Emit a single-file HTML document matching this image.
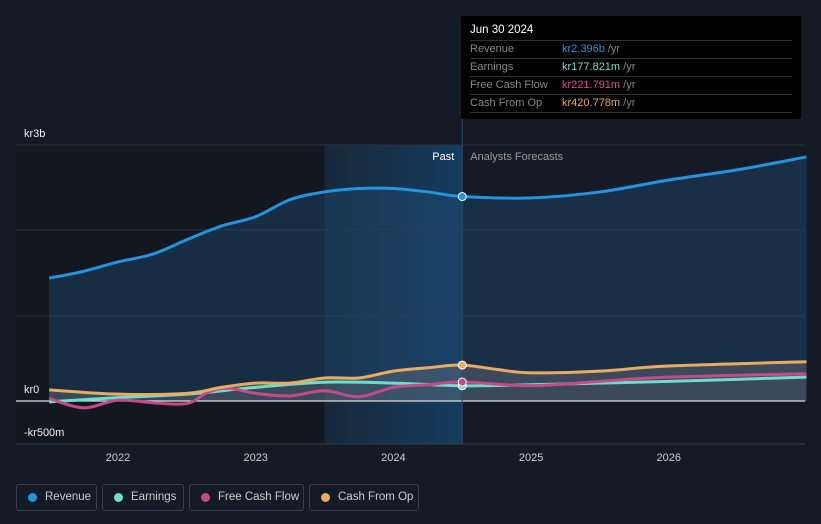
<!DOCTYPE html>
<html><head><meta charset="utf-8"><style>
body{margin:0;background:#151b26;width:821px;height:524px;overflow:hidden;font-family:"Liberation Sans",sans-serif;position:relative}
svg{position:absolute;left:0;top:0}
#tip{position:absolute;left:461px;top:16px;width:340px;height:103px;background:#000;border-radius:2px;font-size:11px;color:#888}
#tip .d{color:#fff;font-size:11.5px;padding:8px 0 0 9px;height:16px}
#tip .r{margin:0 9px;border-top:1px solid #333;height:17px;line-height:17px;position:relative}
#tip .r span.v{position:absolute;left:92px}
.leg{position:absolute;top:484px;height:27px;border:1px solid #3a3f4a;border-radius:3px;box-sizing:border-box;color:#ccc;font-size:11.5px;line-height:25px;padding-left:28px;white-space:nowrap}
.leg i{position:absolute;left:11px;top:8px;width:9px;height:9px;border-radius:50%}
</style></head><body>
<svg id="c" width="821" height="524"></svg>
<div id="tip">
<div class="d">Jun 30 2024</div>
<div class="r">Revenue<span class="v" style="color:#2394df">kr2.396b <span style="color:#888">/yr</span></span></div>
<div class="r">Earnings<span class="v" style="color:#6cdecb">kr177.821m <span style="color:#888">/yr</span></span></div>
<div class="r">Free Cash Flow<span class="v" style="color:#d94d93">kr221.791m <span style="color:#888">/yr</span></span></div>
<div class="r">Cash From Op<span class="v" style="color:#eaa95b">kr420.778m <span style="color:#888">/yr</span></span></div>
<div class="r" style="height:0"></div>
</div>
<div class="leg" style="left:16px;width:81px"><i style="background:#2394df"></i>Revenue</div>
<div class="leg" style="left:102px;width:82px"><i style="background:#6cdecb"></i>Earnings</div>
<div class="leg" style="left:189px;width:115px"><i style="background:#c44a8a"></i>Free Cash Flow</div>
<div class="leg" style="left:309px;width:110px"><i style="background:#e8ab60"></i>Cash From Op</div>
<script>
const xTicks=[2022,2023,2024,2025,2026];
const revT=[2021.5,2021.75,2022,2022.25,2022.5,2022.75,2023,2023.25,2023.5,2023.75,2024,2024.25,2024.5,2025,2025.5,2026,2026.5,2027];
const revV=[1.44,1.52,1.63,1.72,1.89,2.05,2.16,2.36,2.45,2.49,2.49,2.45,2.396,2.38,2.45,2.59,2.71,2.86];
const cfoT=[2021.5,2022,2022.5,2022.75,2023,2023.25,2023.5,2023.75,2024,2024.25,2024.5,2024.75,2025,2025.5,2026,2027];
const cfoV=[0.13,0.08,0.09,0.16,0.21,0.21,0.27,0.27,0.35,0.39,0.421,0.37,0.33,0.35,0.41,0.46];
const earT=[2021.5,2022,2022.5,2023,2023.5,2024,2024.5,2025,2026,2027];
const earV=[-0.01,0.04,0.08,0.16,0.22,0.21,0.178,0.19,0.23,0.28];
const fcfT=[2021.5,2021.75,2022,2022.25,2022.5,2022.65,2022.8,2023,2023.25,2023.5,2023.75,2024,2024.25,2024.5,2025,2025.5,2026,2027];
const fcfV=[0.03,-0.08,0.01,-0.02,-0.03,0.1,0.15,0.09,0.06,0.12,0.05,0.16,0.19,0.222,0.18,0.23,0.28,0.32];
const X=t=>118+(t-2022)*137.7, Y=v=>401-v*85.33;
const svg=document.getElementById('c'),NS='http://www.w3.org/2000/svg';
function mk(tag,a){const e=document.createElementNS(NS,tag);for(const k in a)e.setAttribute(k,a[k]);svg.appendChild(e);return e;}
function path(T,V){const p=T.map((t,i)=>[X(t),Y(V[i])]);let d='M'+p[0];for(let i=0;i<p.length-1;i++){const a=p[i-1]||p[i],b=p[i],c=p[i+1],e=p[i+2]||c;d+='C'+(b[0]+(c[0]-a[0])/6)+','+(b[1]+(c[1]-a[1])/6)+' '+(c[0]-(e[0]-b[0])/6)+','+(c[1]-(e[1]-b[1])/6)+' '+c;}return d;}
const defs=mk('defs',{});defs.innerHTML='<linearGradient id="hl" x1="0" x2="1"><stop offset="0" stop-color="#1b3a55" stop-opacity="0.5"/><stop offset="1" stop-color="#154a75" stop-opacity="0.75"/></linearGradient>';
let e=mk('rect',{x:16,y:145,width:X(2024.5)-16,height:299,fill:'#121720'});
e=mk('rect',{x:X(2023.5),y:145,width:X(2024.5)-X(2023.5),height:299,fill:'url(#hl)'});
[145,230,316].forEach(y=>{e=mk('line',{x1:16,x2:805,y1:y,y2:y,stroke:'#2c3340'});});
e=mk('line',{x1:16,x2:805,y1:444,y2:444,stroke:'#3a404c'});
xTicks.forEach(t=>{e=mk('text',{x:X(t),y:461,fill:'#ccc','font-size':11,'text-anchor':'middle'});e.textContent=t;});
[['kr3b',137],['kr0',393],['-kr500m',436]].forEach(a=>{e=mk('text',{x:24,y:a[1],fill:'#eee','font-size':11});e.textContent=a[0];});
const rp=path(revT,revV);
e=mk('path',{d:rp+'L'+X(2027)+','+Y(0)+'L'+X(2021.5)+','+Y(0)+'Z',fill:'#1e4a70','fill-opacity':0.45});
const cp=path(cfoT,cfoV);
e=mk('path',{d:cp+'L'+X(2027)+','+Y(0)+'L'+X(2021.5)+','+Y(0)+'Z',fill:'#7a7a80','fill-opacity':0.35});
e=mk('line',{x1:16,x2:805,y1:401,y2:401,stroke:'#ddd','stroke-width':1.3});
e=mk('line',{x1:X(2024.5),x2:X(2024.5),y1:16,y2:444,stroke:'#2d4a66'});
[[earT,earV,'#6cdecb','earnings-line'],[fcfT,fcfV,'#c44a8a','fcf-line'],[cfoT,cfoV,'#e8ab60','cfo-line'],[revT,revV,'#2394df','revenue-line']].forEach(s=>{
 e=mk('path',{d:path(s[0],s[1]),fill:'none',stroke:s[2],'stroke-width':3});
 const i=s[0].indexOf(2024.5);
 e=mk('circle',{cx:X(2024.5),cy:Y(s[1][i]),r:4,fill:s[2],stroke:'#fff','stroke-width':1});
});
e=mk('text',{x:X(2024.5)-8,y:160,fill:'#fff','font-size':11,'text-anchor':'end'});e.textContent='Past';
e=mk('text',{x:X(2024.5)+8,y:160,fill:'#999','font-size':11});e.textContent='Analysts Forecasts';
</script>
</body></html>
